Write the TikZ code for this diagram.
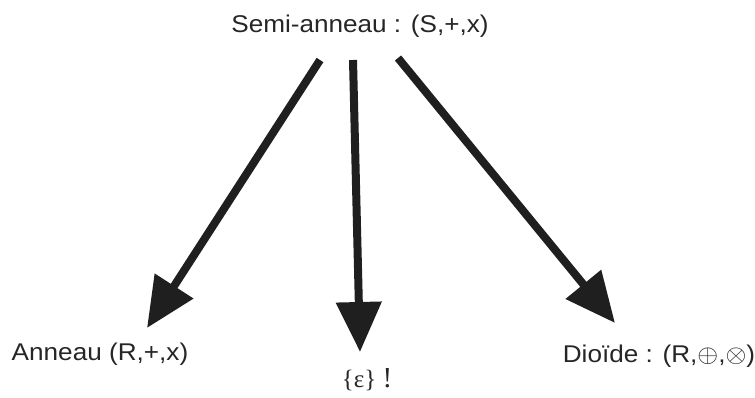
\documentclass[tikz,border=0pt]{standalone}
\usepackage{fontspec}
\setmainfont{Liberation Sans}
\newfontfamily\timesfont{Liberation Serif}
\usetikzlibrary{arrows.meta}
\tikzset{
  lbl/.style={inner sep=0pt, anchor=base, font=\fontsize{24.2}{27}\selectfont, text=black!85},
  bigarrow/.style={line width=8pt, draw=black!88, -{Triangle[length=50pt,width=44pt]}}
}
\newcommand{\wide}[1]{\scalebox{1.08}[1]{#1}}
\begin{document}
\begin{tikzpicture}[x=1pt,y=-1pt]
\useasboundingbox (0,0) rectangle (755,397);
\node[lbl] (top) at (360,32) {\wide{Semi-anneau : (S,+,x)}};
\node[lbl] (ann) at (100,360) {\wide{Anneau (R,+,x)}};
\node[lbl, font=\timesfont\fontsize{25}{28}\selectfont] (eps) at (367,387) {\{ε\}\ {\fontsize{29}{31}\selectfont !}};
\node[lbl] (dio) at (659,362) {\wide{Dioïde : (R,$\oplus$,$\otimes$)}};
\coordinate (s1) at (320,60);
\coordinate (s2) at (353,60);
\coordinate (s3) at (398,58);
\coordinate (t1) at (147,328);
\coordinate (t2) at (360,352);
\coordinate (t3) at (615,323);
\draw[bigarrow] (s1) -- (t1);
\draw[bigarrow] (s2) -- (t2);
\draw[bigarrow] (s3) -- (t3);
\end{tikzpicture}
\end{document}
